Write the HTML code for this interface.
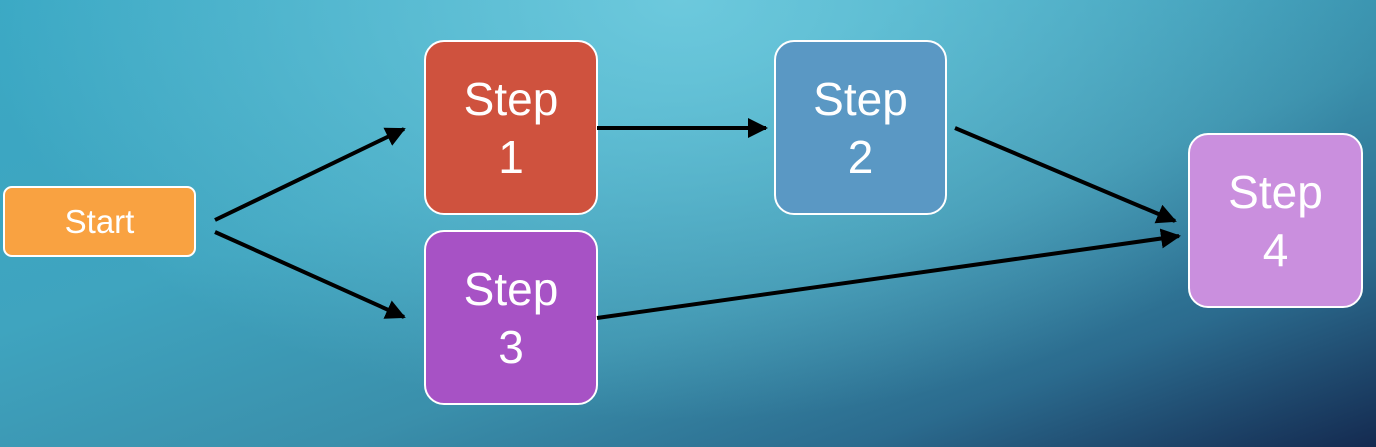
<!DOCTYPE html>
<html><head><style>
body{margin:0;width:1376px;height:447px;overflow:hidden;position:relative;font-family:"Liberation Sans",sans-serif;
background:radial-gradient(ellipse 700px 420px at 680px 0px,rgba(120,210,228,0.8) 0%,rgba(120,210,228,0) 100%),
linear-gradient(160deg,#3aa8c4 0%,#3fa4bf 35%,#3a8fab 60%,#2b6b8e 80%,#142a50 100%);}
.b{position:absolute;box-sizing:border-box;border:2.5px solid #fff;border-radius:20px;color:#fff;display:flex;align-items:center;justify-content:center;text-align:center;font-size:46px;line-height:58px;font-weight:normal}
svg{position:absolute;left:0;top:0}
</style></head><body>
<div class="b" style="left:3px;top:186px;width:193px;height:71px;border-radius:9px;background:#f9a241;font-size:33px">Start</div>
<div class="b" style="left:424px;top:40px;width:174px;height:175px;background:#cf523e">Step<br>1</div>
<div class="b" style="left:424px;top:230px;width:174px;height:175px;background:#a752c5">Step<br>3</div>
<div class="b" style="left:774px;top:40px;width:173px;height:175px;background:#5a98c4">Step<br>2</div>
<div class="b" style="left:1188px;top:133px;width:175px;height:175px;background:#ca8fde">Step<br>4</div>
<svg width="1376" height="447"><defs><marker id="a" markerWidth="5" markerHeight="5" refX="4.5" refY="2.5" orient="auto" markerUnits="strokeWidth"><path d="M0,0L5,2.5L0,5z" fill="#000"/></marker></defs>
<g stroke="#000" stroke-width="4" marker-end="url(#a)">
<line x1="215" y1="220" x2="404" y2="129"/>
<line x1="215" y1="232" x2="404" y2="317"/>
<line x1="597" y1="128" x2="766" y2="128"/>
<line x1="955" y1="128" x2="1175" y2="221"/>
<line x1="597" y1="318" x2="1179" y2="236"/>
</g></svg>
</body></html>
